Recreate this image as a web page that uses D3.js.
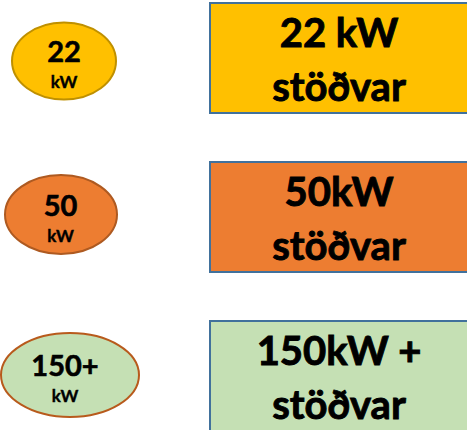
<!DOCTYPE html>
<html>
<head>
<meta charset="utf-8">
<script src="https://cdn.jsdelivr.net/npm/d3@7"></script>
<style>
  body { margin: 0; background: #fff; }
  text { font-family: Lato, "Open Sans", sans-serif; font-weight: bold; fill: #000; stroke: #000; }
</style>
</head>
<body>
<script>
// charger classes
var powerLabels = ['22', '50', '150+'];
var unitLabels = ['kW', 'kW', 'kW'];
var boxLine1 = ['22 kW', '50kW', '150kW +'];
var boxLine2 = ['stöðvar', 'stöðvar', 'stöðvar'];

var width = 467, height = 430;

var svg = d3.select('body').append('svg')
  .attr('width', width)
  .attr('height', height);

var idx = d3.range(powerLabels.length);
var y = d3.scalePoint().domain(idx).range([58, 376]);

var fills = ['#FFC000', '#ED7D31', '#C5E0B4'];
var rings = ['#BF9000', '#AE5A21', '#B85A1C'];
// ellipse shapes differ slightly per row in the original
var ecx = [64, 61, 70], erx = [52, 56, 69], ery = [38.5, 39.5, 42], edy = [3, -2.5, -1];
var tcx = [64, 60.5, 65];

var left = svg.selectAll('g.badge').data(idx).enter().append('g')
  .attr('class', 'badge')
  .attr('transform', function(d) { return 'translate(0,' + (y(d) + edy[d]) + ')'; });

left.append('ellipse')
  .attr('cx', function(d) { return ecx[d]; })
  .attr('rx', function(d) { return erx[d]; })
  .attr('ry', function(d) { return ery[d]; })
  .attr('fill', function(d) { return fills[d]; })
  .attr('stroke', function(d) { return rings[d]; })
  .attr('stroke-width', 2);

left.append('text')
  .attr('x', function(d) { return tcx[d]; })
  .attr('y', 1)
  .attr('text-anchor', 'middle')
  .style('font-size', '29px')
  .style('stroke-width', 0.6)
  .text(function(d) { return powerLabels[d]; });

left.append('text')
  .attr('x', function(d) { return tcx[d]; })
  .attr('y', 27)
  .attr('text-anchor', 'middle')
  .style('font-size', '17px')
  .style('stroke-width', 0.4)
  .text(function(d) { return unitLabels[d]; });

var right = svg.selectAll('g.box').data(idx).enter().append('g')
  .attr('class', 'box')
  .attr('transform', function(d) { return 'translate(0,' + y(d) + ')'; });

right.append('rect')
  .attr('x', 210)
  .attr('y', -55)
  .attr('width', 270)
  .attr('height', 110)
  .attr('fill', function(d) { return fills[d]; })
  .attr('stroke', '#41719C')
  .attr('stroke-width', 2);

right.append('text')
  .attr('x', 339)
  .attr('y', -11)
  .attr('text-anchor', 'middle')
  .style('font-size', '40px')
  .style('stroke-width', 0.9)
  .text(function(d) { return boxLine1[d]; });

right.append('text')
  .attr('x', 339)
  .attr('y', 43)
  .attr('text-anchor', 'middle')
  .style('font-size', '40px')
  .style('stroke-width', 0.9)
  .text(function(d) { return boxLine2[d]; });
</script>
</body>
</html>
